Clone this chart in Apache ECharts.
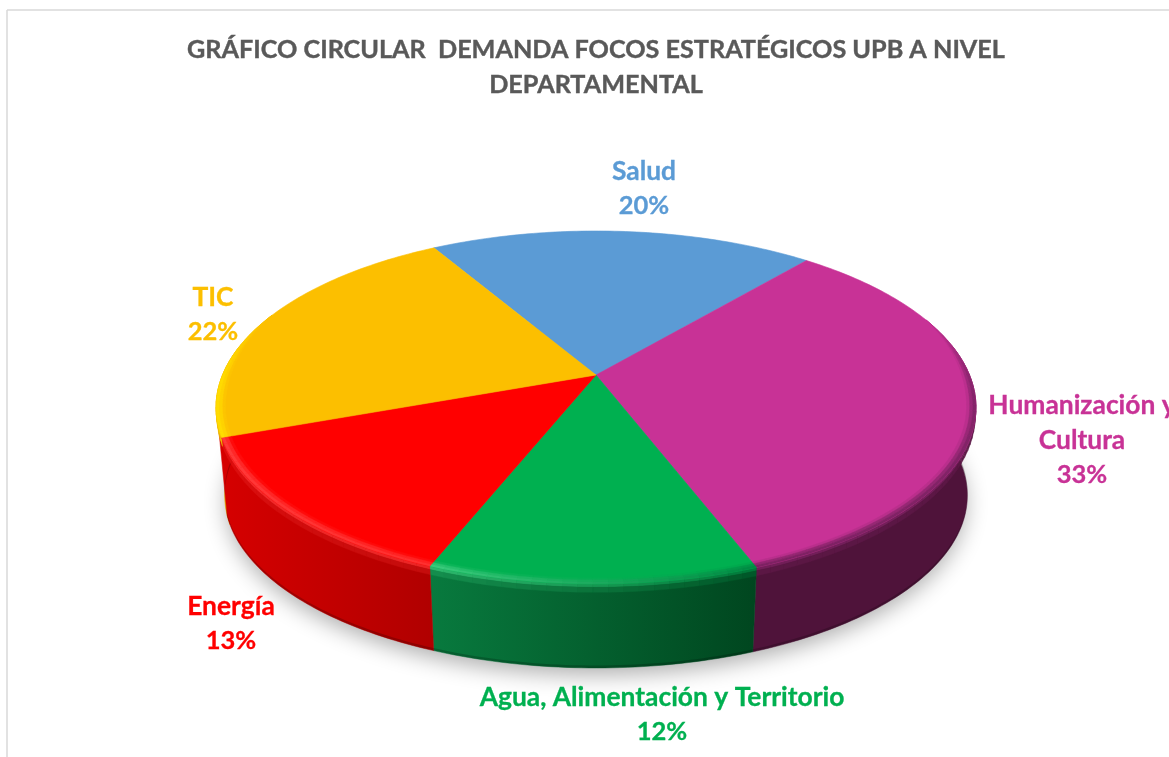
<!DOCTYPE html>
<html><head><meta charset="utf-8">
<style>html,body{margin:0;padding:0;background:#fff;overflow:hidden}#c{width:1169px;height:757px}</style>
<script src="https://cdn.jsdelivr.net/npm/echarts@6/dist/echarts.min.js"></script>
</head><body><div id="c"></div>
<script>
const titleText = 'GRÁFICO CIRCULAR  DEMANDA FOCOS ESTRATÉGICOS UPB A NIVEL\nDEPARTAMENTAL';
const categories = ['Salud', 'Humanización y\nCultura', 'Agua, Alimentación y Territorio', 'Energía', 'TIC'];
const values = [19.5, 33.1, 11.8, 13.4, 22.2];

const topColors  = ['#5b9bd5', '#c83296', '#00b050', '#ff0000', '#fcbf00'];
const sideLeft   = ['#3f76a8', '#4f133a', '#087a3e', '#d60000', '#e8b000'];
const sideRight  = ['#3f76a8', '#4f133a', '#00461f', '#b00000', '#e8b000'];
const rimLeft    = ['#5b9bd5', '#7d2262', '#3acb7c', '#ff3a3a', '#ffdc00'];
const rimRight   = ['#5b9bd5', '#8a2670', '#008a42', '#ff3030', '#ffdc00'];
const labelX = [644, 1082, 662, 231, 213];
const labelY = [171, 405, 697, 606, 297];
const sideOverlap = [0, 0, 0, 3, 0];

const FONT = 'Lato, "Open Sans", sans-serif';
const START = -30.2, CX = 596, CY = 375, A = 373.5, B = 170.5, PERS = 0.184;
const CYB = 463.8, AB = 365, BB = 166.6;
const RIM_FROM = 70, RIM_TO = 292;
const rad = d => d * Math.PI / 180;

function P(deg, r, h) {
  const t = rad(deg), w = 1 + PERS * Math.cos(t) * r;
  const cy = CY + (CYB - CY) * h, a = A + (AB - A) * h, b = B + (BB - B) * h;
  return [CX + a * r * Math.sin(t) / w, cy - b * r * Math.cos(t) / w];
}
function arc(a0, a1, r, h) {
  const n = Math.max(2, Math.ceil(Math.abs(a1 - a0))), out = [];
  for (let i = 0; i <= n; i++) out.push(P(a0 + (a1 - a0) * i / n, r, h));
  return out;
}
function hex(c) { return [1, 3, 5].map(i => parseInt(c.substr(i, 2), 16)); }
function mix(c1, c2, f) {
  const a = typeof c1 === 'string' ? hex(c1) : c1, b = typeof c2 === 'string' ? hex(c2) : c2;
  return a.map((v, i) => Math.round(v + (b[i] - v) * f));
}
const css = c => 'rgb(' + c.join(',') + ')';
function grad(pts, cl, cr) {
  const xs = pts.map(p => p[0]);
  return new echarts.graphic.LinearGradient(Math.min(...xs), 0, Math.max(...xs), 0,
    [{offset: 0, color: cl}, {offset: 1, color: cr}], true);
}
const total = values.reduce((s, v) => s + v, 0);
function sliceAngles(i) {
  let s = 0;
  for (let k = 0; k < i; k++) s += values[k];
  return [START + s / total * 360, START + (s + values[i]) / total * 360];
}
// envelope: 0 at both far ends of the bevel, 1 over the front
function env(d) {
  const e = Math.min(1, Math.min(d - RIM_FROM, RIM_TO - d) / 30);
  return Math.max(0, Math.sin(e * Math.PI / 2));
}

function renderItem(params, api) {
  const i = params.dataIndex, v = api.value(0);
  const [a0, a1] = sliceAngles(i);
  const kids = [];
  if (i === 0) {
    kids.push({type: 'polygon', z2: 1, shape: {points: arc(0, 360, 0.995, 1)},
      style: {fill: '#bbbbbb', shadowBlur: 22, shadowColor: 'rgba(0,0,0,0.32)', shadowOffsetY: 8}});
  }
  // side wall
  const f0 = Math.max(a0, 80), f1 = Math.min(a1 + sideOverlap[i], 280);
  if (f1 > f0) {
    const pts = arc(f0, f1, 1, 0).concat(arc(f1, f0, 1, 1));
    const g = grad(pts, sideLeft[i], sideRight[i]);
    kids.push({type: 'polygon', z2: 2 + (sideOverlap[i] ? 1 : 0), shape: {points: pts},
      style: {fill: g, stroke: g, lineWidth: 0.5}});
    const low = arc(f0, f1, 1, 0.97).concat(arc(f1, f0, 1, 1));
    kids.push({type: 'polygon', z2: 4, shape: {points: low}, style: {fill: 'rgba(0,0,0,0.2)'}});
  }
  // top face
  kids.push({type: 'polygon', z2: 10, shape: {points: [[CX, CY]].concat(arc(a0, a1, 1, 0))},
    style: {fill: topColors[i], stroke: topColors[i], lineWidth: 0.6}});
  // bevel rim, built in short arc pieces so that it fades and tapers
  const r0 = Math.max(a0, RIM_FROM), r1 = Math.min(a1, RIM_TO);
  if (r1 > r0) {
    const steps = Math.max(2, Math.ceil((r1 - r0) / 2));
    const tp = hex(topColors[i]), sL = hex(sideLeft[i]), sR = hex(sideRight[i]);
    const hL = hex(rimLeft[i]), hR = hex(rimRight[i]);
    // outward profile: [r inset, depth fraction, blend position]
    const prof = [[0.024, 0, 0], [0.016, 0, 0.4], [0.008, 0, 1], [0, 0, 1], [0, 0.04, 1.5], [0, 0.1, 2]];
    for (let s = 0; s < steps; s++) {
      const d0 = r0 + (r1 - r0) * s / steps, d1 = r0 + (r1 - r0) * (s + 1) / steps, dm = (d0 + d1) / 2;
      const e0 = env(d0), e1 = env(d1), em = env(dm), f = 1 - (dm - a0) / (a1 - a0);
      const side = mix(sL, sR, f), rim = mix(hL, hR, f);
      for (let k = 0; k + 1 < prof.length; k++) {
        const a = prof[k], b = prof[k + 1], pos = (a[2] + b[2]) / 2;
        let col = pos <= 1 ? mix(tp, rim, pos) : mix(rim, side, pos - 1);
        if (pos <= 1) col = mix(tp, col, em);
        const onWall = a[1] > 0 || b[1] > 0;
        const pts = [P(d0, 1 - a[0] * e0, a[1]), P(d1, 1 - a[0] * e1, a[1]),
                     P(d1, 1 - b[0] * e1, b[1]), P(d0, 1 - b[0] * e0, b[1])];
        const c = css(col);
        kids.push({type: 'polygon', z2: onWall ? 5 + k : 11 + k, shape: {points: pts},
          style: {fill: c, stroke: c, lineWidth: 0.4}});
      }
    }
  }
  // label
  const names = categories[i].split('\n');
  const txt = (t, y, size) => ({type: 'text', z2: 30, style: {
    text: t, x: labelX[i], y, align: 'center', verticalAlign: 'middle',
    fill: topColors[i], stroke: topColors[i], lineWidth: 0.3, font: 'bold ' + size + 'px ' + FONT}});
  names.forEach((t, k) => kids.push(txt(t, labelY[i] + k * 35, 26.4)));
  kids.push(txt(Math.round(v) + '%', labelY[i] + names.length * 35, 25.5));
  return {type: 'group', children: kids};
}

const chart = echarts.init(document.getElementById('c'), null, {renderer: 'canvas'});
chart.setOption({
  backgroundColor: '#ffffff',
  animation: false,
  title: {text: titleText, left: 596, top: 32, padding: 0, textAlign: 'center',
    textStyle: {fontFamily: FONT, fontWeight: 'bold', fontSize: 25.2, lineHeight: 35, color: '#595959',
      textBorderColor: '#595959', textBorderWidth: 0.4}},
  graphic: [
    {type: 'line', shape: {x1: 7, y1: 10, x2: 1169, y2: 10}, style: {stroke: '#d9d9d9', lineWidth: 1.5}},
    {type: 'line', shape: {x1: 7, y1: 10, x2: 7, y2: 757}, style: {stroke: '#d9d9d9', lineWidth: 1.5}}
  ],
  series: [{
    type: 'custom', coordinateSystem: 'none', silent: true, clip: false,
    renderItem,
    data: values.map((v, i) => ({value: v, name: categories[i]}))
  }]
});
</script></body></html>
